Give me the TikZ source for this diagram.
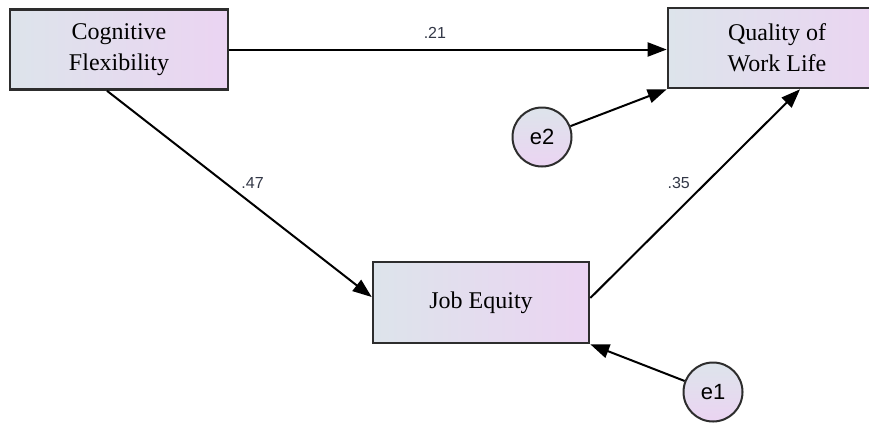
\documentclass[tikz,border=0pt]{standalone}
\usepackage{fontspec}
\setmainfont{Liberation Serif}
\newfontfamily\pathfont{Liberation Sans}
\usetikzlibrary{arrows.meta}

\definecolor{boxleft}{RGB}{221,228,235}
\definecolor{boxright}{RGB}{235,212,242}
\definecolor{rim}{RGB}{45,45,45}
\definecolor{weighttext}{RGB}{50,55,70}

\begin{document}
\begin{tikzpicture}[x=1pt,y=-1pt,%
    observed/.style={draw=rim, line width=2.6pt, left color=boxleft, right color=boxright,
      minimum width=218pt, minimum height=80pt, align=center,
      font=\fontsize{24}{31}\selectfont},
    residual/.style={circle, draw=rim, line width=2pt, top color=boxleft, bottom color=boxright,
      minimum size=59pt, inner sep=0pt, font=\pathfont\fontsize{22}{24}\selectfont},
    path/.style={draw=black, line width=2pt, -{Triangle[length=19pt,width=14pt]}},
    weight/.style={font=\pathfont\fontsize{16}{18}\selectfont, text=weighttext}]
    \useasboundingbox (0,0) rectangle (869,424);

    \node [observed] (cogflex) at (119,49.5) {Cognitive\\Flexibility};
    \node [observed] (qwl) at (777,48) {Quality of\\Work Life};
    \node [observed, minimum width=216pt, minimum height=81pt] (jobeq) at (481,302.5) {Job Equity};
    \node [residual] (e2) at (542,137) {e2};
    \node [residual] (e1) at (713,392) {e1};

    \draw [path] (cogflex.east) -- (cogflex.east -| qwl.west)
      node [weight, pos=.47, above=7pt] {.21};
    \draw [path] ([xshift=-12pt]cogflex.south) -- ([yshift=5.5pt]jobeq.west)
      node [weight, pos=.55, above=11pt] {.47};
    \draw [path] ([yshift=4.5pt]jobeq.east) -- ([xshift=23pt]qwl.south)
      node [weight, pos=.5, above left=1pt] {.35};
    \draw [path] (e2) -- (qwl.south west);
    \draw [path] (e1) -- (jobeq.south east);
\end{tikzpicture}
\end{document}
